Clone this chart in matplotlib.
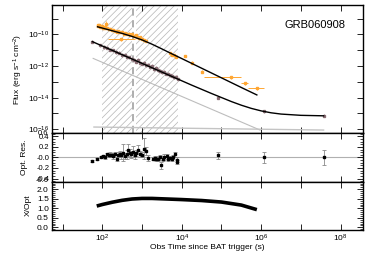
import numpy as np
import matplotlib
matplotlib.use('Agg')
import matplotlib.pyplot as plt
from matplotlib.ticker import FixedLocator, FuncFormatter, MultipleLocator, NullLocator

plt.rcParams['font.family'] = ['Liberation Sans', 'DejaVu Sans']
plt.rcParams['mathtext.fontset'] = 'custom'
plt.rcParams['mathtext.rm'] = 'Liberation Sans'
plt.rcParams['mathtext.it'] = 'Liberation Sans:italic'
plt.rcParams['hatch.linewidth'] = 0.5

# --- values (log10 of time in s, log10 of flux) ---
opt_logt = [1.88, 1.90, 1.92, 1.94, 1.96, 1.98, 2.00, 2.03, 2.05, 2.08, 2.10, 2.13, 2.16,
            2.20, 2.24, 2.28, 2.32, 2.36, 2.40, 2.44, 2.50, 2.54, 2.58, 2.62, 2.66, 2.70,
            2.74, 2.80, 2.84, 2.88, 2.92, 2.96, 3.00, 3.05, 3.10, 3.71, 3.75, 3.80, 3.85,
            4.08, 4.27, 4.52]
opt_logf = [-9.42, -9.48, -9.40, -9.52, -9.45, -9.55, -9.50, -9.58, -9.52, -9.62, -9.35, -9.60, -9.68,
            -9.66, -9.74, -9.70, -9.78, -9.82, -9.76, -9.88, -9.85, -9.95, -9.90, -10.00, -9.95, -10.05,
            -10.00, -10.10, -10.05, -10.15, -10.20, -10.18, -10.30, -10.35, -10.40, -11.20, -11.28, -11.32, -11.40,
            -11.37, -11.79, -12.36]
opt_logerr = [0.06, 0.05, 0.08, 0.05, 0.06, 0.05, 0.06, 0.05, 0.06, 0.05, 0.20, 0.06, 0.05,
              0.06, 0.05, 0.06, 0.05, 0.06, 0.06, 0.05, 0.06, 0.06, 0.06, 0.06, 0.08, 0.06,
              0.07, 0.06, 0.07, 0.06, 0.07, 0.06, 0.06, 0.07, 0.06, 0.08, 0.08, 0.08, 0.08,
              0.08, 0.08, 0.10]
# optical points with wide time bins: (log t, log t low, log t high, log f)
optw_logt = [2.47, 5.24, 5.58, 5.89]
optw_lo = [2.15, 4.57, 5.50, 5.66]
optw_hi = [2.82, 5.49, 5.66, 6.08]
optw_logf = [-10.32, -12.72, -13.10, -13.41]

xr_logt = [1.75, 1.95, 2.05, 2.12, 2.20, 2.28, 2.35, 2.42, 2.50, 2.56, 2.62, 2.68, 2.74, 2.80,
           2.86, 2.90, 2.95, 3.00, 3.05, 3.10, 3.15, 3.20, 3.25, 3.30, 3.35, 3.40, 3.45, 3.50,
           3.55, 3.60, 3.65, 3.70, 3.75, 3.80, 3.85, 3.90, 4.92, 6.06, 7.57]
xr_logf = [-10.46, -10.68, -10.80, -10.85, -10.98, -11.00, -11.12, -11.15, -11.30, -11.28, -11.42,
           -11.45, -11.55, -11.60, -11.72, -11.60, -11.78, -11.85, -11.80, -11.95, -11.92, -12.05,
           -12.00, -12.20, -12.10, -12.25, -12.30, -12.38, -12.35, -12.50, -12.48, -12.60, -12.62,
           -12.72, -12.70, -12.85, -14.00, -14.87, -15.14]

# model curves
opt_mod_logt = [1.88, 2.25, 2.5, 2.75, 3.0, 3.25, 3.5, 3.75, 4.0, 4.5, 5.0, 5.5, 5.89]
opt_mod_logf = [-9.52, -9.77, -9.94, -10.13, -10.35, -10.62, -10.92, -11.23, -11.53, -12.14,
                -12.75, -13.36, -13.83]
xr_mod_logt = [1.75, 2.25, 2.75, 3.25, 3.75, 4.25, 4.75, 5.25, 5.5, 5.75, 6.0, 6.25, 6.5, 7.0, 7.57]
xr_mod_logf = [-10.46, -11.01, -11.56, -12.11, -12.66, -13.21, -13.74, -14.25, -14.48, -14.68,
               -14.84, -14.96, -15.04, -15.12, -15.15]
pl_logt = [1.77, 5.97]
pl_logf = [-11.52, -16.05]
host_logt = [1.79, 7.57]
host_logf = [-15.86, -16.05]

res_logt = [1.75, 1.87, 1.96, 2.03, 2.08, 2.11, 2.16, 2.20, 2.24, 2.28, 2.32, 2.36, 2.40, 2.44,
            2.48, 2.53, 2.57, 2.61, 2.65, 2.69, 2.73, 2.78, 2.82, 2.86, 2.91, 2.95, 3.00, 3.06,
            3.10, 3.16, 3.28, 3.32, 3.36, 3.40, 3.44, 3.48, 3.52, 3.56, 3.62, 3.66, 3.70, 3.75,
            3.79, 3.83, 3.87, 3.88, 4.92, 6.06, 7.57]
res_val = [-0.063, -0.03, 0.006, 0.02, 0.01, 0.06, 0.05, 0.055, 0.045, 0.03, 0.06, -0.03, 0.05,
           0.07, 0.04, 0.09, 0.03, 0.06, 0.14, 0.08, 0.06, 0.11, 0.04, 0.08, 0.15, 0.07, 0.05,
           0.17, 0.12, -0.01, -0.02, -0.01, -0.03, -0.02, 0.0, -0.15, -0.02, 0.01, 0.02, -0.03,
           -0.01, -0.02, 0.01, 0.06, -0.08, -0.04, 0.04, 0.0, 0.0]
res_err = [0.02, 0.02, 0.02, 0.03, 0.03, 0.03, 0.04, 0.04, 0.04, 0.05, 0.05, 0.04, 0.05, 0.06,
           0.06, 0.16, 0.06, 0.08, 0.12, 0.08, 0.07, 0.10, 0.06, 0.06, 0.09, 0.06, 0.05, 0.20,
           0.08, 0.05, 0.03, 0.03, 0.03, 0.04, 0.04, 0.07, 0.04, 0.05, 0.05, 0.04, 0.04, 0.04,
           0.04, 0.05, 0.04, 0.04, 0.07, 0.11, 0.15]

ratio_logt = [1.86, 2.0, 2.25, 2.5, 2.75, 3.0, 3.25, 3.5, 4.0, 4.5, 5.0, 5.5, 5.89]
ratio_val = [1.12, 1.20, 1.32, 1.42, 1.49, 1.52, 1.52, 1.50, 1.46, 1.41, 1.33, 1.17, 0.93]

hatch_spans = [(100, 550), (690, 8100)]
dash_t = 605

ORANGE = '#ffa733'
XRAY = '#8a6d74'


def lin(v):
    return np.power(10.0, np.asarray(v, dtype=float))


def log_err(logf, e):
    f = lin(logf)
    e = np.asarray(e, dtype=float)
    return [f - f * 10 ** (-e), f * 10 ** e - f]


def decade_label(v, _):
    k = int(round(np.log10(v)))
    return r'$10^{%d}$' % k if k % 2 == 0 else ''


def style(ax):
    ax.tick_params(which='both', direction='in', top=True, right=True, labelsize=6, pad=2)
    ax.tick_params(which='major', length=4, width=0.6)
    ax.tick_params(which='minor', length=2, width=0.5)
    for s in ax.spines.values():
        s.set_linewidth(1.0)
    ax.set_xscale('log')
    ax.set_xlim(5.3, 3.6e8)
    ax.xaxis.set_major_locator(FixedLocator([10.0 ** k for k in range(0, 9)]))
    ax.xaxis.set_minor_locator(NullLocator())
    ax.xaxis.set_major_formatter(FuncFormatter(decade_label))


fig = plt.figure(figsize=(3.74, 2.67), dpi=100)
ax1 = fig.add_axes([0.138, 0.501, 0.832, 0.481])
ax2 = fig.add_axes([0.138, 0.3195, 0.832, 0.1815])
ax3 = fig.add_axes([0.138, 0.140, 0.832, 0.1795])

# top: light curves
style(ax1)
ax1.set_yscale('log')
ax1.set_ylim(5.6e-17, 7.4e-9)
for lo, hi in hatch_spans:
    ax1.axvspan(lo, hi, facecolor='white', edgecolor='#b5b5b5', hatch='/////', lw=0, zorder=0)
ax1.axvline(dash_t, color='#a8a8a8', ls=(0, (4, 2.5)), lw=1.3, zorder=1)
ax1.plot(lin(pl_logt), lin(pl_logf), color='#bdbdbd', lw=0.8, zorder=2)
ax1.plot(lin(host_logt), lin(host_logf), color='#c4c4c4', lw=1.0, zorder=2)
ax1.errorbar(lin(xr_logt), lin(xr_logf), yerr=log_err(xr_logf, [0.1] * len(xr_logf)),
             fmt='s', ms=1.4, color=XRAY, ecolor=XRAY, elinewidth=0.5, capsize=0, zorder=3)
ax1.errorbar(lin(opt_logt), lin(opt_logf), yerr=log_err(opt_logf, opt_logerr),
             fmt='s', ms=1.8, color=ORANGE, ecolor=ORANGE, elinewidth=0.6, capsize=0, zorder=3)
ax1.errorbar(lin(optw_logt), lin(optw_logf),
             xerr=[lin(optw_logt) - lin(optw_lo), lin(optw_hi) - lin(optw_logt)],
             yerr=log_err(optw_logf, [0.08] * len(optw_logf)),
             fmt='s', ms=1.6, color=ORANGE, ecolor=ORANGE, elinewidth=0.7, capsize=0, zorder=3)
ax1.plot(lin(opt_mod_logt), lin(opt_mod_logf), color='black', lw=1.0, zorder=4)
ax1.plot(lin(xr_mod_logt), lin(xr_mod_logf), color='black', lw=1.0, zorder=4)
ax1.yaxis.set_major_locator(FixedLocator([10.0 ** k for k in range(-17, -7)]))
ax1.yaxis.set_minor_locator(NullLocator())
ax1.yaxis.set_major_formatter(FuncFormatter(decade_label))
ax1.tick_params(labelbottom=False)
ax1.set_ylabel('Flux (erg s$^{-1}$ cm$^{-2}$)', fontsize=6)
ax1.yaxis.set_label_coords(-0.085, 0.5)
ax1.text(0.847, 0.84, 'GRB060908', transform=ax1.transAxes, fontsize=8, ha='center', va='center')

# middle: residuals
style(ax2)
ax2.tick_params(axis='y', labelsize=5.5, pad=1.5)
ax2.set_ylim(-0.46, 0.46)
ax2.axhline(0, color='#b0b0b0', lw=0.8, zorder=1)
ax2.errorbar(lin(res_logt), res_val, yerr=res_err, fmt='s', ms=1.8, color='black',
             ecolor='#8a8a8a', elinewidth=0.6, capsize=1.3, capthick=0.6, zorder=3)
ax2.yaxis.set_major_locator(FixedLocator([-0.4, -0.2, 0.0, 0.2, 0.4]))
ax2.yaxis.set_minor_locator(MultipleLocator(0.05))
ax2.yaxis.set_major_formatter(FuncFormatter(lambda v, _: '-0.0' if abs(v) < 1e-9 else '%.1f' % v))
ax2.text(-0.011, 0.985, '0.6', transform=ax2.transAxes, fontsize=5.5, ha='right', va='center')
ax2.text(-0.011, 0.015, '-0.6', transform=ax2.transAxes, fontsize=5.5, ha='right', va='center')
ax2.tick_params(labelbottom=False)
ax2.set_ylabel('Opt. Res.', fontsize=6)
ax2.yaxis.set_label_coords(-0.075, 0.5)

# bottom: X/Opt ratio
style(ax3)
ax3.set_ylim(-0.12, 2.4)
ax3.plot(lin(ratio_logt), ratio_val, color='black', lw=2.6, solid_capstyle='butt')
ax3.yaxis.set_major_locator(MultipleLocator(0.5))
ax3.yaxis.set_minor_locator(MultipleLocator(0.1))
ax3.yaxis.set_major_formatter(FuncFormatter(lambda v, _: '%.1f' % v))
ax3.set_ylabel('X/Opt', fontsize=6)
ax3.yaxis.set_label_coords(-0.065, 0.5)
ax3.set_xlabel('Obs Time since BAT trigger (s)', fontsize=6)
ax3.xaxis.set_label_coords(0.5, -0.3)

fig.savefig('out.png', dpi=100)
